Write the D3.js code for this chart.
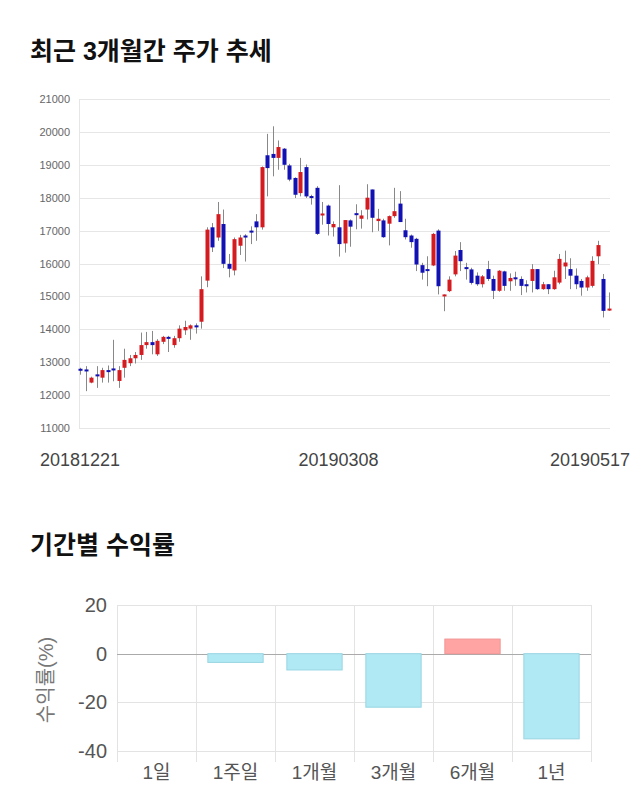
<!DOCTYPE html>
<html><head><meta charset="utf-8">
<script src="https://cdn.jsdelivr.net/npm/d3@7"></script>
<style>
body{margin:0;background:#fff;}
svg{display:block;font-family:"Liberation Sans","Noto Sans CJK KR",Arial,sans-serif;}
</style></head>
<body>
<svg id="c" width="640" height="810"></svg>
<script>
const dates = ["20181221","20181224","20181226","20181227","20181228",
"20190102","20190103","20190104","20190107","20190108","20190109","20190110","20190111","20190114","20190115","20190116","20190117","20190118","20190121","20190122","20190123","20190124","20190125","20190128","20190129","20190130","20190131",
"20190201","20190207","20190208","20190211","20190212","20190213","20190214","20190215","20190218","20190219","20190220","20190221","20190222","20190225","20190226","20190227","20190228",
"20190304","20190305","20190306","20190307","20190308","20190311","20190312","20190313","20190314","20190315","20190318","20190319","20190320","20190321","20190322","20190325","20190326","20190327","20190328","20190329",
"20190401","20190402","20190403","20190404","20190405","20190408","20190409","20190410","20190411","20190412","20190415","20190416","20190417","20190418","20190419","20190422","20190423","20190424","20190425","20190426","20190429","20190430",
"20190502","20190503","20190507","20190508","20190509","20190510","20190513","20190514","20190515","20190516","20190517"];
const open  = [12800,12780,12380,12630,12530,12760,12810,12430,12830,12970,13120,13220,13520,13610,13240,13620,13770,13520,13730,13970,14020,14120,14230,15480,17100,16790,17200,15990,15790,16540,16850,17000,17280,17100,19290,19330,19210,19490,18980,18600,18140,18930,18050,18300,17480,17760,17100,17100,16610,17310,17530,17360,17640,18250,17290,17310,17210,17440,17820,17010,16850,16750,15950,15830,15940,17000,15010,15160,15670,16410,15890,15820,15630,15370,15830,15530,15170,15760,15460,15580,15530,15370,15470,15830,15220,15370,15220,15420,15910,15830,15630,15470,15270,15320,16220,15530,14630];
const high  = [12830,12880,12560,12880,12830,12900,13680,12880,13410,13220,13310,13900,13920,13950,13700,13800,13800,13800,14120,14260,14150,14180,15610,17100,17230,17870,17640,16290,16790,16870,16890,17130,17500,18950,19940,20170,19740,19510,19030,18620,19210,19010,18090,18350,17870,17790,17280,18380,17320,17340,17800,17620,18410,18250,17660,17360,17460,18300,18200,17360,16880,16780,16020,16220,16930,17040,15060,15610,16380,16650,16020,15870,15730,15650,16080,15630,15800,15780,15700,15750,15610,15490,15980,15830,15440,15370,15780,16290,16390,16160,15850,15530,15630,16220,16690,15680,15120];
const low   = [12620,12120,12360,12220,12380,12380,12420,12220,12530,12880,12960,13070,13410,13240,13190,13550,13310,13440,13620,13830,13680,13870,14020,15280,16350,16690,15860,15580,15640,16260,16060,16590,16690,17030,18040,18650,18850,18850,18500,17990,18040,17990,17790,16870,17180,16850,16820,16210,16330,16510,17040,17060,17340,16950,16990,16780,16550,17390,17260,16730,16480,15770,15510,15310,15920,15060,14550,15130,15610,15770,15510,15360,15320,15270,15470,14920,15140,15170,15170,15320,15040,15120,15120,15200,15200,15070,15200,15370,15530,15220,15220,15020,15170,15270,15980,14360,14560];
const close = [12770,12730,12530,12580,12760,12710,12760,12760,13070,13120,13220,13520,13610,13520,13650,13770,13720,13730,14020,14070,14120,14070,15220,17030,16490,17500,15990,15840,16740,16790,16830,16950,17100,18930,18900,19210,19540,19000,18550,18090,18780,18040,18030,16900,17520,17200,17200,16590,17320,17120,17510,17460,18000,17390,17360,16800,17440,17590,17260,16800,16650,15970,15720,15810,16900,15310,15060,15510,16240,16070,15870,15410,15370,15610,15530,15170,15780,15320,15560,15530,15320,15320,15830,15220,15370,15220,15580,16140,16030,15630,15370,15270,15580,16080,16560,14560,14630];
const priceTicks = [11000,12000,13000,14000,15000,16000,17000,18000,19000,20000,21000];
const dateTickLabels = ["20181221","20190308","20190517"];

const periods = ["1일","1주일","1개월","3개월","6개월","1년"];
const returns = [0,-3.6,-6.7,-22.0,6.0,-35.0];
const returnTicks = [20,0,-20,-40];

const svg = d3.select("#c");

// Titles
svg.append("text").attr("x",30).attr("y",60).attr("font-size",25).attr("font-weight","bold")
  .attr("fill","#111").text("최근 3개월간 주가 추세");
svg.append("text").attr("x",30).attr("y",554).attr("font-size",25).attr("font-weight","bold")
  .attr("fill","#111").text("기간별 수익률");

// ---- Candlestick chart ----
const x = d3.scalePoint().domain(dates).range([80, 609]);
const y = d3.scaleLinear().domain([11000,21000]).range([428, 99]);
const g1 = svg.append("g");
g1.selectAll("line.grid").data(priceTicks).enter().append("line")
  .attr("x1",79).attr("x2",610).attr("y1",d=>Math.round(y(d))+0.5).attr("y2",d=>Math.round(y(d))+0.5)
  .attr("stroke","#e6e6e6");
g1.append("line").attr("x1",79.5).attr("x2",79.5).attr("y1",99).attr("y2",428).attr("stroke","#e6e6e6");
g1.selectAll("text.yt").data(priceTicks).enter().append("text")
  .attr("x",70).attr("y",d=>y(d)+4).attr("text-anchor","end").attr("font-size",11).attr("fill","#666")
  .text(d=>d);

const idx = d3.range(dates.length);
const bw = 4;
g1.selectAll("line.wick").data(idx).enter().append("line")
  .attr("x1",i=>Math.round(x(dates[i]))+0.5).attr("x2",i=>Math.round(x(dates[i]))+0.5)
  .attr("y1",i=>y(high[i])).attr("y2",i=>y(low[i]))
  .attr("stroke","#888").attr("stroke-width",1);
g1.selectAll("rect.body").data(idx).enter().append("rect")
  .attr("x",i=>Math.round(x(dates[i]))-bw/2+0.5).attr("width",bw)
  .attr("y",i=>y(Math.max(open[i],close[i])))
  .attr("height",i=>Math.max(2,Math.abs(y(open[i])-y(close[i]))))
  .attr("fill",i=>close[i]>=open[i]?"#d41b20":"#1212b4");

// x labels
const tickPos = [{d:dateTickLabels[0],a:"middle",dx:0},{d:dateTickLabels[1],a:"middle",dx:-6},{d:dateTickLabels[2],a:"end",dx:21}];
g1.selectAll("text.xt").data(tickPos).enter().append("text")
  .attr("x",t=>x(t.d)+t.dx).attr("y",466).attr("text-anchor",t=>t.a)
  .attr("font-size",18).attr("fill","#444").text(t=>t.d);

// ---- Returns bar chart ----
const xb = d3.scaleBand().domain(periods).range([117, 591]).paddingInner(0.3).paddingOuter(0.15);
const yb = d3.scaleLinear().domain([-40,20]).range([751, 605]);
const g2 = svg.append("g");
const step = (591-117)/periods.length;
const bounds = d3.range(periods.length+1).map(i=>117+i*step);
g2.selectAll("line.vg").data(bounds).enter().append("line")
  .attr("x1",d=>Math.round(d)+0.5).attr("x2",d=>Math.round(d)+0.5).attr("y1",605).attr("y2",762)
  .attr("stroke","#e3e3e3");
g2.selectAll("line.hg").data(returnTicks).enter().append("line")
  .attr("x1",117).attr("x2",591).attr("y1",d=>Math.round(yb(d))+0.5).attr("y2",d=>Math.round(yb(d))+0.5)
  .attr("stroke",d=>d===0?"#aaa":"#e3e3e3");
g2.selectAll("text.yt").data(returnTicks).enter().append("text")
  .attr("x",107).attr("y",d=>yb(d)+7).attr("text-anchor","end").attr("font-size",20).attr("fill","#555")
  .text(d=>d);
g2.selectAll("rect.bar").data(periods.map((p,i)=>({p,v:returns[i]}))).enter().append("rect")
  .attr("x",d=>xb(d.p)).attr("width",xb.bandwidth())
  .attr("y",d=>yb(Math.max(0,d.v))).attr("height",d=>Math.abs(yb(d.v)-yb(0)))
  .attr("fill",d=>d.v>=0?"#ffa3a3":"#b0e9f3")
  .attr("stroke",d=>d.v>=0?"#f29494":"#98d6e2").attr("stroke-width",1);
g2.selectAll("text.xt").data(periods).enter().append("text")
  .attr("x",d=>xb(d)+xb.bandwidth()/2).attr("y",779).attr("text-anchor","middle")
  .attr("font-size",19).attr("fill","#555").text(d=>d);
svg.append("text").attr("transform","translate(53,680) rotate(-90)").attr("text-anchor","middle")
  .attr("font-size",20).attr("fill","#777").text("수익률(%)");
</script>
</body></html>
